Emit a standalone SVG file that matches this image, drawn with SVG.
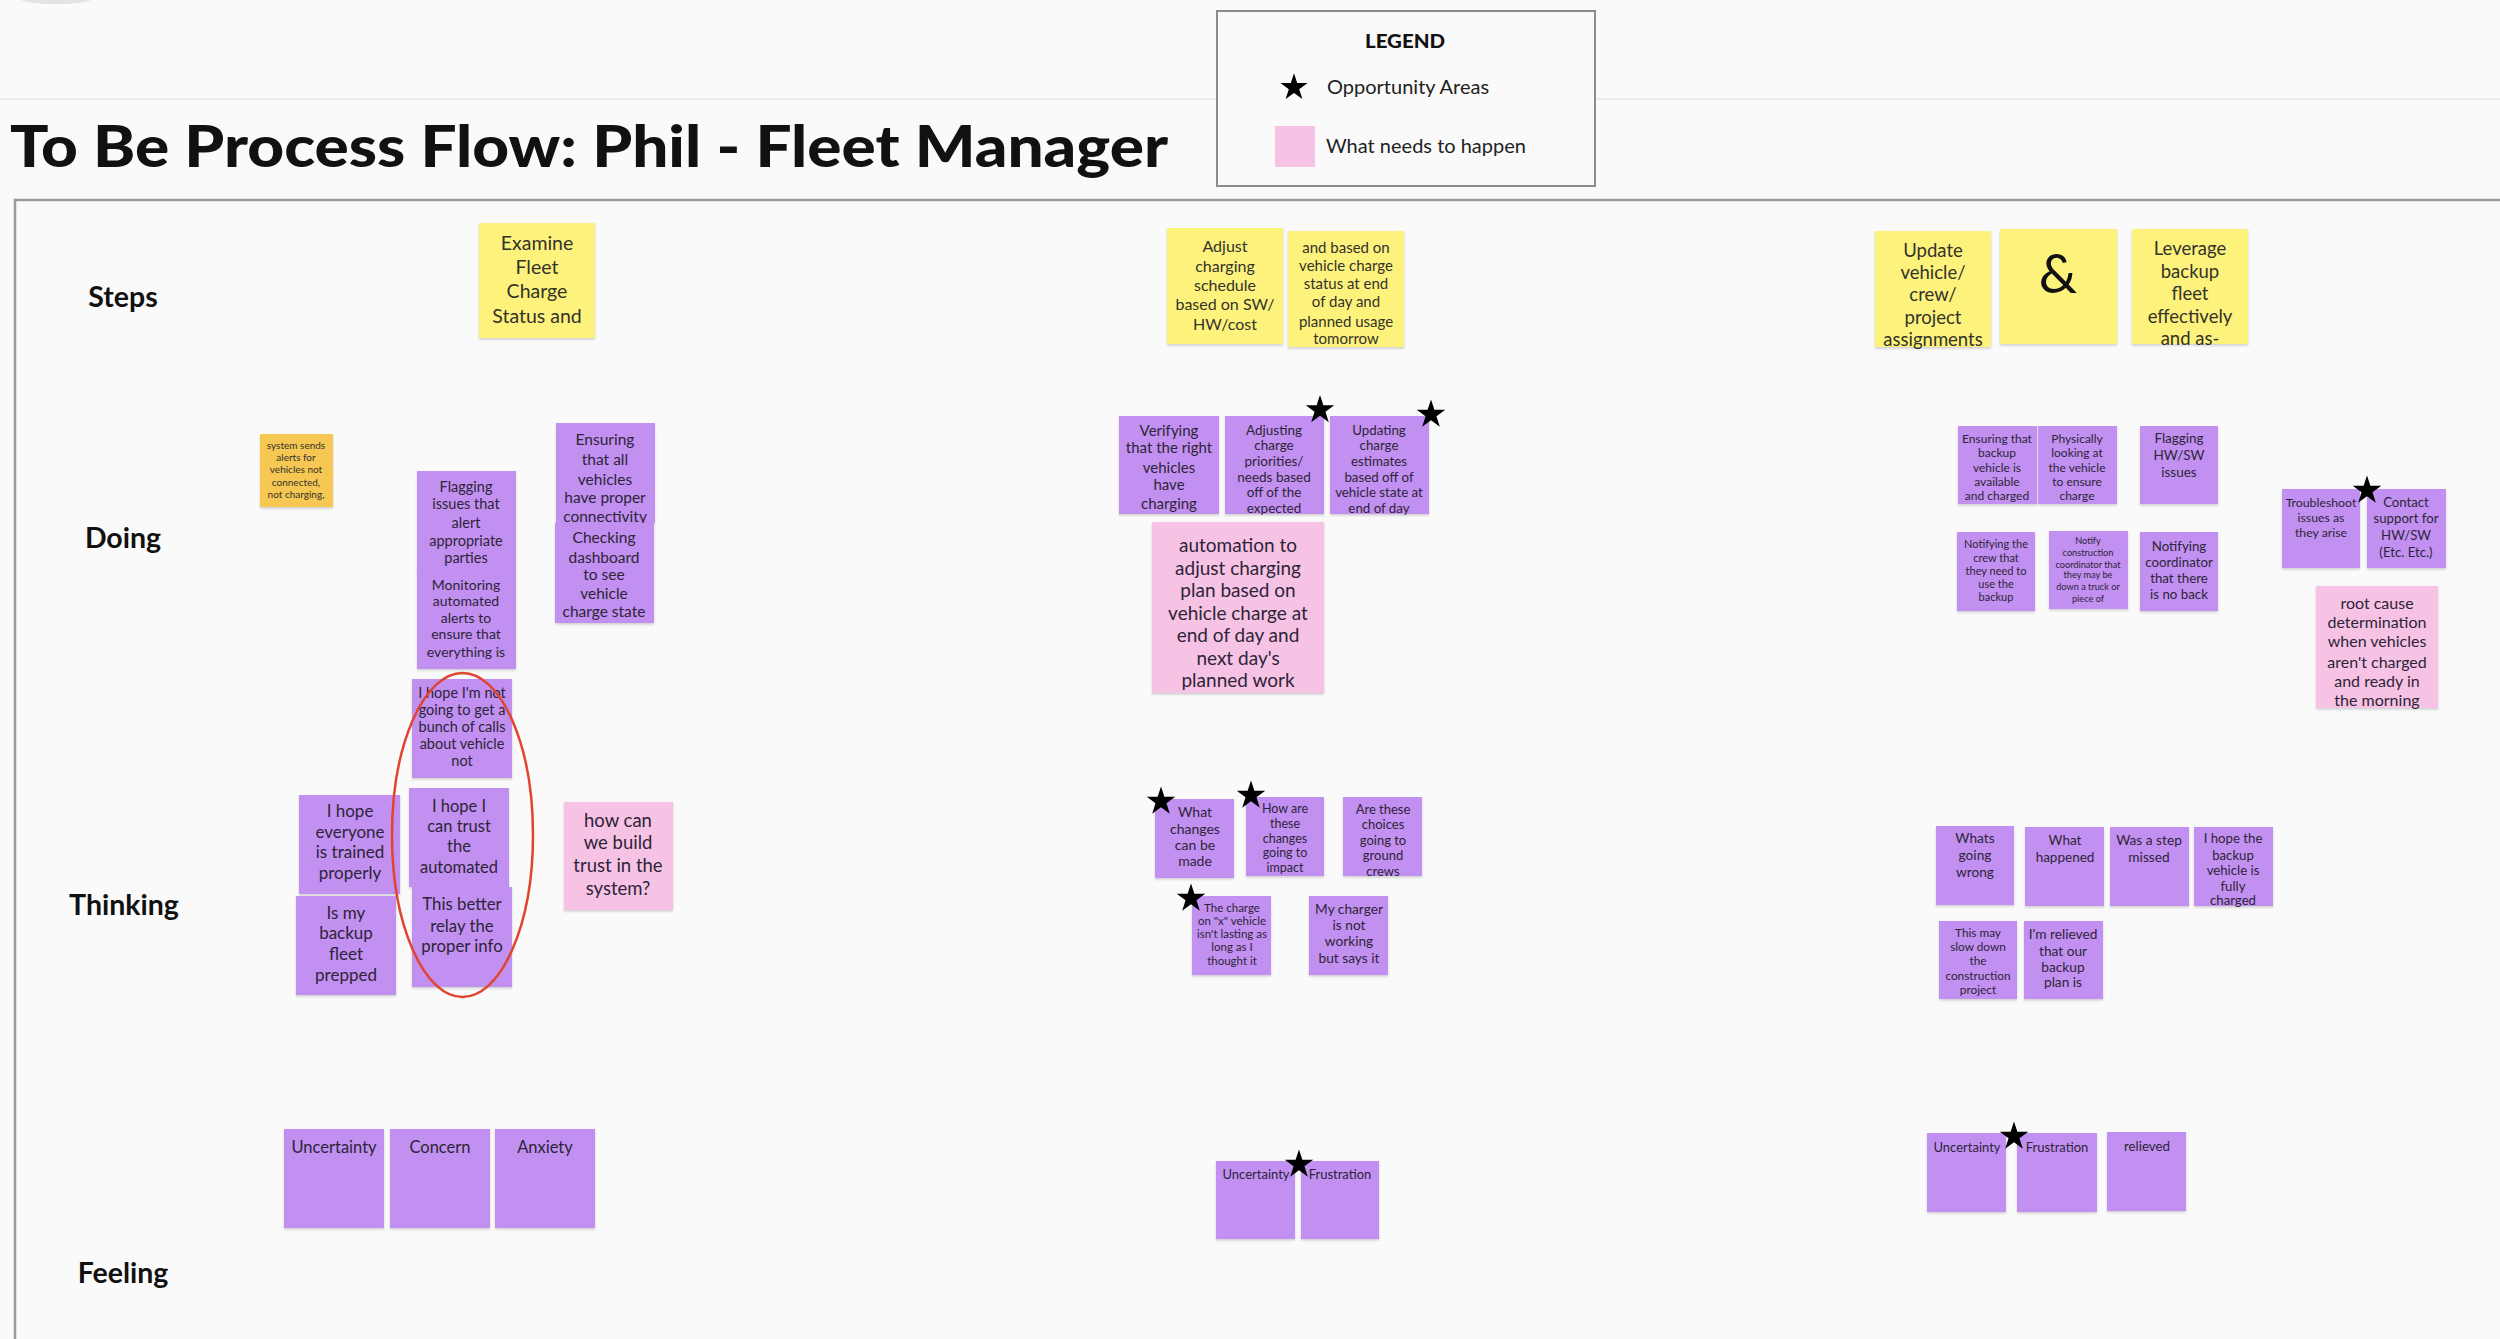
<svg xmlns="http://www.w3.org/2000/svg" width="2500" height="1339" viewBox="0 0 2500 1339">
<defs>
<style>
.bg{fill:#fafafa}
.p{fill:#c190f0;filter:url(#sh)}
.y{fill:#fdf27c;filter:url(#sh)}
.k{fill:#f6c3e5;filter:url(#sh)}
.o{fill:#f6c852;filter:url(#sh)}
.t{font-family:Lato,"Liberation Sans",sans-serif;text-anchor:middle;fill:#2e2438}
.ty{font-family:Lato,"Liberation Sans",sans-serif;text-anchor:middle;fill:#33332a}
.lbl{font-family:Lato,"Liberation Sans",sans-serif;font-weight:700;font-size:28.5px;text-anchor:middle;fill:#111}
.star{fill:#000}
</style>
<filter id="sh" x="-10%" y="-10%" width="120%" height="125%">
<feDropShadow dx="0" dy="1.5" stdDeviation="1.2" flood-color="#000" flood-opacity="0.18"/>
</filter>
<path id="st" d="M0,-15 L3.37,-4.64 L14.27,-4.64 L5.45,1.77 L8.82,12.14 L0,5.73 L-8.82,12.14 L-5.45,1.77 L-14.27,-4.64 L-3.37,-4.64 Z"/>
</defs>
<rect class="bg" x="0" y="0" width="2500" height="1339"/>
<ellipse cx="56" cy="0" rx="34" ry="4" fill="#e4e4e4"/>
<line x1="0" y1="99" x2="2500" y2="99" stroke="#ececec" stroke-width="2"/>
<rect x="15" y="200" width="2500" height="1200" fill="none" stroke="#9a9a9a" stroke-width="2.5"/>

<g id="title">
<text x="10" y="167" font-family="Lato,'Liberation Sans',sans-serif" font-weight="900" font-size="58" fill="#111" textLength="1158" lengthAdjust="spacingAndGlyphs">To Be Process Flow: Phil - Fleet Manager</text>
</g>

<g id="legend">
<rect x="1217" y="11" width="378" height="175" fill="#fafafa" stroke="#8c8c8c" stroke-width="2"/>
<text x="1405" y="48" font-family="Lato,'Liberation Sans',sans-serif" font-weight="900" font-size="18" fill="#111" text-anchor="middle" textLength="80" lengthAdjust="spacingAndGlyphs">LEGEND</text>
<use href="#st" class="star" transform="translate(1294,87.5) scale(0.95)"/>
<text x="1327" y="94" font-family="Lato,'Liberation Sans',sans-serif" font-size="20" fill="#222">Opportunity Areas</text>
<rect x="1275" y="126" width="40" height="41" fill="#f6c3e5"/>
<text x="1326" y="153" font-family="Lato,'Liberation Sans',sans-serif" font-size="20" fill="#222">What needs to happen</text>
</g>

<g id="row-labels">
<text class="lbl" x="123" y="307">Steps</text>
<text class="lbl" x="123" y="548">Doing</text>
<text class="lbl" x="124" y="915">Thinking</text>
<text class="lbl" x="123" y="1283">Feeling</text>
</g>

<g id="connectors"/>

<!-- Steps -->
<g id="s1"><rect class="y" x="479" y="223" width="116" height="115"/>
<text class="ty" font-size="19.5"><tspan x="537" y="250">Examine</tspan><tspan x="537" y="274">Fleet</tspan><tspan x="537" y="298">Charge</tspan><tspan x="537" y="323">Status and</tspan></text></g>
<g id="s2"><rect class="y" x="1167" y="228" width="116" height="116"/>
<text class="ty" font-size="16"><tspan x="1225" y="252">Adjust</tspan><tspan x="1225" y="272">charging</tspan><tspan x="1225" y="291">schedule</tspan><tspan x="1225" y="310">based on SW/</tspan><tspan x="1225" y="330">HW/cost</tspan></text></g>
<g id="s3"><rect class="y" x="1288" y="231" width="116" height="116"/>
<text class="ty" font-size="15"><tspan x="1346" y="253">and based on</tspan><tspan x="1346" y="271">vehicle charge</tspan><tspan x="1346" y="289">status at end</tspan><tspan x="1346" y="307">of day and</tspan><tspan x="1346" y="327">planned usage</tspan><tspan x="1346" y="344">tomorrow</tspan></text></g>
<g id="s4"><rect class="y" x="1875" y="231" width="116" height="116"/>
<text class="ty" font-size="18.5"><tspan x="1933" y="257">Update</tspan><tspan x="1933" y="279">vehicle/</tspan><tspan x="1933" y="301">crew/</tspan><tspan x="1933" y="324">project</tspan><tspan x="1933" y="346">assignments</tspan></text></g>
<g id="s5"><rect class="y" x="2000" y="229" width="117" height="115"/>
<text class="ty" font-size="54" style="fill:#111"><tspan x="2058" y="293">&amp;</tspan></text></g>
<g id="s6"><rect class="y" x="2132" y="229" width="116" height="115"/>
<text class="ty" font-size="18.5"><tspan x="2190" y="255">Leverage</tspan><tspan x="2190" y="278">backup</tspan><tspan x="2190" y="300">fleet</tspan><tspan x="2190" y="323">effectively</tspan><tspan x="2190" y="345">and as-</tspan></text></g>

<!-- Doing -->
<g id="d1"><rect class="o" x="260" y="434" width="73" height="73"/>
<text class="ty" font-size="10"><tspan x="296" y="449">system sends</tspan><tspan x="296" y="461">alerts for</tspan><tspan x="296" y="473">vehicles not</tspan><tspan x="296" y="486">connected,</tspan><tspan x="296" y="498">not charging,</tspan></text></g>
<g id="d2"><rect class="p" x="417" y="471" width="99" height="98"/>
<text class="t" font-size="14.5"><tspan x="466" y="492">Flagging</tspan><tspan x="466" y="509">issues that</tspan><tspan x="466" y="528">alert</tspan><tspan x="466" y="546">appropriate</tspan><tspan x="466" y="563">parties</tspan></text></g>
<g id="d3"><rect class="p" x="417" y="569" width="99" height="100"/>
<text class="t" font-size="14"><tspan x="466" y="590">Monitoring</tspan><tspan x="466" y="606">automated</tspan><tspan x="466" y="623">alerts to</tspan><tspan x="466" y="639">ensure that</tspan><tspan x="466" y="657">everything is</tspan></text></g>
<g id="d4"><rect class="p" x="556" y="423" width="99" height="100"/>
<text class="t" font-size="15.5"><tspan x="605" y="445">Ensuring</tspan><tspan x="605" y="465">that all</tspan><tspan x="605" y="485">vehicles</tspan><tspan x="605" y="503">have proper</tspan><tspan x="605" y="522">connectivity</tspan></text></g>
<g id="d5"><rect class="p" x="555" y="523" width="99" height="100"/>
<text class="t" font-size="15.5"><tspan x="604" y="543">Checking</tspan><tspan x="604" y="563">dashboard</tspan><tspan x="604" y="580">to see</tspan><tspan x="604" y="599">vehicle</tspan><tspan x="604" y="617">charge state</tspan></text></g>

<g id="d6"><rect class="p" x="1119" y="416" width="100" height="98"/>
<text class="t" font-size="15"><tspan x="1169" y="436">Verifying</tspan><tspan x="1169" y="453">that the right</tspan><tspan x="1169" y="473">vehicles</tspan><tspan x="1169" y="490">have</tspan><tspan x="1169" y="509">charging</tspan></text></g>
<g id="d7"><rect class="p" x="1225" y="416" width="99" height="98"/>
<text class="t" font-size="13.5"><tspan x="1274" y="435">Adjusting</tspan><tspan x="1274" y="450">charge</tspan><tspan x="1274" y="466">priorities/</tspan><tspan x="1274" y="482">needs based</tspan><tspan x="1274" y="497">off of the</tspan><tspan x="1274" y="513">expected</tspan></text>
<use href="#st" class="star" transform="translate(1320,410)"/></g>
<g id="d8"><rect class="p" x="1330" y="416" width="99" height="98"/>
<text class="t" font-size="13.3"><tspan x="1379" y="435">Updating</tspan><tspan x="1379" y="450">charge</tspan><tspan x="1379" y="466">estimates</tspan><tspan x="1379" y="482">based off of</tspan><tspan x="1379" y="497">vehicle state at</tspan><tspan x="1379" y="513">end of day</tspan></text>
<use href="#st" class="star" transform="translate(1431,414.5)"/></g>
<g id="d9"><rect class="k" x="1152" y="522" width="172" height="171"/>
<text class="t" font-size="19"><tspan x="1238" y="552">automation to</tspan><tspan x="1238" y="575">adjust charging</tspan><tspan x="1238" y="597">plan based on</tspan><tspan x="1238" y="620">vehicle charge at</tspan><tspan x="1238" y="642">end of day and</tspan><tspan x="1238" y="665">next day's</tspan><tspan x="1238" y="687">planned work</tspan></text></g>

<g id="d10"><rect class="p" x="1958" y="426" width="79" height="78"/>
<text class="t" font-size="12"><tspan x="1997" y="443">Ensuring that</tspan><tspan x="1997" y="457">backup</tspan><tspan x="1997" y="472">vehicle is</tspan><tspan x="1997" y="486">available</tspan><tspan x="1997" y="500">and charged</tspan></text></g>
<g id="d11"><rect class="p" x="2038" y="426" width="79" height="78"/>
<text class="t" font-size="12"><tspan x="2077" y="443">Physically</tspan><tspan x="2077" y="457">looking at</tspan><tspan x="2077" y="472">the vehicle</tspan><tspan x="2077" y="486">to ensure</tspan><tspan x="2077" y="500">charge</tspan></text></g>
<g id="d12"><rect class="p" x="2140" y="426" width="78" height="78"/>
<text class="t" font-size="13.5"><tspan x="2179" y="443">Flagging</tspan><tspan x="2179" y="460">HW/SW</tspan><tspan x="2179" y="477">issues</tspan></text></g>
<g id="d13"><rect class="p" x="1957" y="532" width="78" height="79"/>
<text class="t" font-size="11"><tspan x="1996" y="548">Notifying the</tspan><tspan x="1996" y="562">crew that</tspan><tspan x="1996" y="575">they need to</tspan><tspan x="1996" y="588">use the</tspan><tspan x="1996" y="601">backup</tspan></text></g>
<g id="d14"><rect class="p" x="2049" y="531" width="79" height="78"/>
<text class="t" font-size="9.2"><tspan x="2088" y="544">Notify</tspan><tspan x="2088" y="556">construction</tspan><tspan x="2088" y="568">coordinator that</tspan><tspan x="2088" y="578">they may be</tspan><tspan x="2088" y="590">down a truck or</tspan><tspan x="2088" y="602">piece of</tspan></text></g>
<g id="d15"><rect class="p" x="2140" y="532" width="78" height="79"/>
<text class="t" font-size="13.3"><tspan x="2179" y="551">Notifying</tspan><tspan x="2179" y="567">coordinator</tspan><tspan x="2179" y="583">that there</tspan><tspan x="2179" y="599">is no back</tspan></text></g>
<g id="d16"><rect class="p" x="2282" y="489" width="78" height="79"/>
<text class="t" font-size="12.3"><tspan x="2321" y="507">Troubleshoot</tspan><tspan x="2321" y="522">issues as</tspan><tspan x="2321" y="537">they arise</tspan></text></g>
<g id="d17"><rect class="p" x="2367" y="489" width="79" height="79"/>
<text class="t" font-size="13.2"><tspan x="2406" y="507">Contact</tspan><tspan x="2406" y="523">support for</tspan><tspan x="2406" y="540">HW/SW</tspan><tspan x="2406" y="557">(Etc. Etc.)</tspan></text>
<use href="#st" class="star" transform="translate(2367,490.5)"/></g>
<g id="d18"><rect class="k" x="2316" y="586" width="122" height="122"/>
<text class="t" font-size="16"><tspan x="2377" y="609">root cause</tspan><tspan x="2377" y="628">determination</tspan><tspan x="2377" y="647">when vehicles</tspan><tspan x="2377" y="668">aren't charged</tspan><tspan x="2377" y="687">and ready in</tspan><tspan x="2377" y="706">the morning</tspan></text></g>

<!-- Thinking -->
<g id="t4"><rect class="p" x="299" y="795" width="101" height="99"/>
<text class="t" font-size="17"><tspan x="350" y="817">I hope</tspan><tspan x="350" y="838">everyone</tspan><tspan x="350" y="858">is trained</tspan><tspan x="350" y="879">properly</tspan></text></g>
<g id="t5"><rect class="p" x="296" y="896" width="100" height="99"/>
<text class="t" font-size="17"><tspan x="346" y="919">Is my</tspan><tspan x="346" y="939">backup</tspan><tspan x="346" y="960">fleet</tspan><tspan x="346" y="981">prepped</tspan></text></g>
<g id="t1"><rect class="p" x="412" y="679" width="100" height="99"/>
<text class="t" font-size="14.5"><tspan x="462" y="698">I hope I'm not</tspan><tspan x="462" y="715">going to get a</tspan><tspan x="462" y="732">bunch of calls</tspan><tspan x="462" y="749">about vehicle</tspan><tspan x="462" y="766">not</tspan></text></g>
<g id="t2"><rect class="p" x="409" y="788" width="100" height="99"/>
<text class="t" font-size="16.5"><tspan x="459" y="812">I hope I</tspan><tspan x="459" y="832">can trust</tspan><tspan x="459" y="852">the</tspan><tspan x="459" y="873">automated</tspan></text></g>
<g id="t3"><rect class="p" x="412" y="887" width="100" height="100"/>
<text class="t" font-size="16.8"><tspan x="462" y="910">This better</tspan><tspan x="462" y="932">relay the</tspan><tspan x="462" y="952">proper info</tspan></text></g>
<g id="t6"><rect class="k" x="564" y="802" width="109" height="108"/>
<text class="t" font-size="18.5"><tspan x="618" y="827">how can</tspan><tspan x="618" y="849">we build</tspan><tspan x="618" y="872">trust in the</tspan><tspan x="618" y="895">system?</tspan></text></g>
<g id="highlight"><ellipse cx="462.5" cy="835" rx="70.5" ry="162" fill="none" stroke="#e0452f" stroke-width="2.5"/></g>

<g id="t7"><rect class="p" x="1155" y="799" width="79" height="79"/>
<text class="t" font-size="14"><tspan x="1195" y="817">What</tspan><tspan x="1195" y="834">changes</tspan><tspan x="1195" y="850">can be</tspan><tspan x="1195" y="866">made</tspan></text>
<use href="#st" class="star" transform="translate(1161,801.5)"/></g>
<g id="t8"><rect class="p" x="1246" y="797" width="78" height="79"/>
<text class="t" font-size="12.5"><tspan x="1285" y="813">How are</tspan><tspan x="1285" y="828">these</tspan><tspan x="1285" y="843">changes</tspan><tspan x="1285" y="857">going to</tspan><tspan x="1285" y="872">impact</tspan></text>
<use href="#st" class="star" transform="translate(1251,795.5)"/></g>
<g id="t9"><rect class="p" x="1343" y="797" width="79" height="79"/>
<text class="t" font-size="13"><tspan x="1383" y="814">Are these</tspan><tspan x="1383" y="829">choices</tspan><tspan x="1383" y="845">going to</tspan><tspan x="1383" y="860">ground</tspan><tspan x="1383" y="876">crews</tspan></text></g>
<g id="t10"><rect class="p" x="1192" y="896" width="79" height="79"/>
<text class="t" font-size="11.5"><tspan x="1232" y="912">The charge</tspan><tspan x="1232" y="925">on "x" vehicle</tspan><tspan x="1232" y="938">isn't lasting as</tspan><tspan x="1232" y="951">long as I</tspan><tspan x="1232" y="965">thought it</tspan></text>
<use href="#st" class="star" transform="translate(1191,898.5)"/></g>
<g id="t11"><rect class="p" x="1309" y="896" width="79" height="79"/>
<text class="t" font-size="13.7"><tspan x="1349" y="914">My charger</tspan><tspan x="1349" y="930">is not</tspan><tspan x="1349" y="946">working</tspan><tspan x="1349" y="963">but says it</tspan></text></g>

<g id="t12"><rect class="p" x="1936" y="826" width="78" height="79"/>
<text class="t" font-size="13.7"><tspan x="1975" y="843">Whats</tspan><tspan x="1975" y="860">going</tspan><tspan x="1975" y="877">wrong</tspan></text></g>
<g id="t13"><rect class="p" x="2025" y="827" width="79" height="79"/>
<text class="t" font-size="13.5"><tspan x="2065" y="845">What</tspan><tspan x="2065" y="862">happened</tspan></text></g>
<g id="t14"><rect class="p" x="2110" y="827" width="79" height="79"/>
<text class="t" font-size="13.7"><tspan x="2149" y="845">Was a step</tspan><tspan x="2149" y="862">missed</tspan></text></g>
<g id="t15"><rect class="p" x="2194" y="827" width="79" height="79"/>
<text class="t" font-size="13.2"><tspan x="2233" y="843">I hope the</tspan><tspan x="2233" y="860">backup</tspan><tspan x="2233" y="875">vehicle is</tspan><tspan x="2233" y="891">fully</tspan><tspan x="2233" y="905">charged</tspan></text></g>
<g id="t16"><rect class="p" x="1939" y="921" width="78" height="78"/>
<text class="t" font-size="11.8"><tspan x="1978" y="937">This may</tspan><tspan x="1978" y="951">slow down</tspan><tspan x="1978" y="965">the</tspan><tspan x="1978" y="980">construction</tspan><tspan x="1978" y="994">project</tspan></text></g>
<g id="t17"><rect class="p" x="2024" y="921" width="79" height="78"/>
<text class="t" font-size="13.7"><tspan x="2063" y="939">I'm relieved</tspan><tspan x="2063" y="956">that our</tspan><tspan x="2063" y="972">backup</tspan><tspan x="2063" y="987">plan is</tspan></text></g>

<!-- Feeling -->
<g id="f1"><rect class="p" x="284" y="1129" width="100" height="99"/><text class="t" font-size="16.5" x="334" y="1153">Uncertainty</text></g>
<g id="f2"><rect class="p" x="390" y="1129" width="100" height="99"/><text class="t" font-size="16.5" x="440" y="1153">Concern</text></g>
<g id="f3"><rect class="p" x="495" y="1129" width="100" height="99"/><text class="t" font-size="16.5" x="545" y="1153">Anxiety</text></g>
<g id="f4"><rect class="p" x="1216" y="1161" width="79" height="78"/><text class="t" font-size="13" x="1256" y="1179">Uncertainty</text></g>
<g id="f5"><rect class="p" x="1301" y="1161" width="78" height="78"/><text class="t" font-size="13" x="1340" y="1179">Frustration</text>
<use href="#st" class="star" transform="translate(1299,1164.5)"/></g>
<g id="f6"><rect class="p" x="1927" y="1133" width="79" height="79"/><text class="t" font-size="13" x="1967" y="1152">Uncertainty</text></g>
<g id="f7"><rect class="p" x="2017" y="1133" width="80" height="79"/><text class="t" font-size="13" x="2057" y="1152">Frustration</text>
<use href="#st" class="star" transform="translate(2014,1136.5)"/></g>
<g id="f8"><rect class="p" x="2107" y="1132" width="79" height="79"/><text class="t" font-size="13.3" x="2147" y="1151">relieved</text></g>
</svg>
